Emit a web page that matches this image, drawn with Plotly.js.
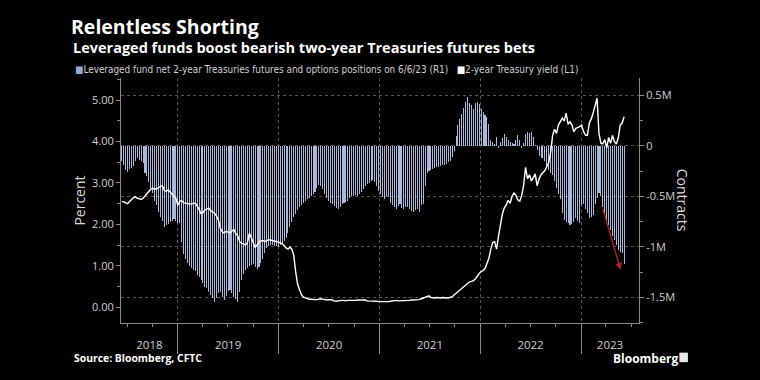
<!DOCTYPE html>
<html><head><meta charset="utf-8">
<script src="https://cdn.plot.ly/plotly-3.0.1.min.js"></script>
<style>html,body{margin:0;padding:0;background:#000;}#chart{width:760px;height:380px;}</style>
</head><body><div id="chart"></div>
<script>
// Weekly CFTC report dates: first report and count
const firstWeek = '2018-06-12';
const weekCount = 261;

// Leveraged fund net 2-year Treasuries futures & options positions (millions of contracts)
const netPositions = [
 -0.15,-0.19,-0.24,-0.26,-0.23,-0.22,-0.20,-0.15,-0.12,-0.14,
 -0.15,-0.17,-0.27,-0.30,-0.36,-0.42,-0.47,-0.54,-0.58,-0.65,
 -0.70,-0.74,-0.80,-0.78,-0.77,-0.75,-0.74,-0.72,-0.74,-0.76,
 -0.76,-0.95,-1.07,-1.12,-1.16,-1.19,-1.21,-1.23,-1.24,-1.28,
 -1.30,-1.33,-1.36,-1.40,-1.41,-1.45,-1.47,-1.50,-1.54,-1.50,
 -1.46,-1.45,-1.49,-1.52,-1.48,-1.44,-1.43,-1.46,-1.49,-1.51,
 -1.54,-1.45,-1.33,-1.27,-1.23,-1.21,-1.19,-1.18,-1.17,-1.20,
 -1.22,-1.20,-1.16,-1.12,-1.06,-1.01,-0.99,-0.98,-0.98,-0.99,
 -0.99,-1.00,-0.98,-0.97,-0.94,-0.91,-0.86,-0.80,-0.75,-0.70,
 -0.67,-0.63,-0.60,-0.58,-0.56,-0.54,-0.53,-0.52,-0.50,-0.48,
 -0.46,-0.42,-0.39,-0.40,-0.43,-0.48,-0.52,-0.54,-0.56,-0.57,
 -0.59,-0.61,-0.62,-0.60,-0.57,-0.56,-0.55,-0.54,-0.52,-0.50,
 -0.50,-0.49,-0.50,-0.48,-0.46,-0.43,-0.40,-0.38,-0.37,-0.35,
 -0.34,-0.36,-0.40,-0.45,-0.48,-0.51,-0.53,-0.50,-0.51,-0.56,
 -0.58,-0.60,-0.62,-0.59,-0.57,-0.61,-0.62,-0.60,-0.60,-0.62,
 -0.64,-0.65,-0.63,-0.62,-0.65,-0.58,-0.57,-0.40,-0.27,-0.25,
 -0.24,-0.23,-0.22,-0.21,-0.21,-0.20,-0.19,-0.19,-0.18,-0.16,
 -0.15,-0.11,-0.05,0.10,0.21,0.27,0.32,0.38,0.43,0.48,
 0.42,0.40,0.37,0.42,0.43,0.41,0.37,0.34,0.31,0.29,
 0.22,0.06,0.04,0.02,0.09,-0.02,0.04,0.08,0.12,0.09,
 0.06,0.04,0.03,0.02,0.06,0.11,0.06,-0.02,0.03,0.12,
 0.14,0.13,0.14,0.09,0.01,-0.04,-0.10,-0.12,-0.12,-0.15,
 -0.20,-0.24,-0.27,-0.29,-0.35,-0.42,-0.48,-0.53,-0.66,-0.73,
 -0.75,-0.76,-0.78,-0.77,-0.75,-0.71,-0.74,-0.76,-0.58,-0.57,
 -0.62,-0.66,-0.71,-0.70,-0.68,-0.57,-0.52,-0.47,-0.50,-0.60,
 -0.66,-0.73,-0.78,-0.83,-0.89,-0.93,-0.98,-1.03,-1.05,-1.06,-1.17
];

// 2-year Treasury yield (percent), same weekly dates
const yield2y = [
 2.55,2.55,2.52,2.50,2.55,2.60,2.64,2.67,2.63,2.62,
 2.60,2.63,2.68,2.74,2.80,2.85,2.87,2.85,2.86,2.88,
 2.90,2.94,2.82,2.80,2.83,2.78,2.75,2.70,2.63,2.46,
 2.56,2.57,2.52,2.51,2.50,2.50,2.49,2.51,2.51,2.45,
 2.37,2.26,2.28,2.35,2.37,2.39,2.33,2.29,2.27,2.20,
 2.10,1.90,1.82,1.79,1.83,1.81,1.79,1.84,1.87,1.78,
 1.72,1.58,1.54,1.53,1.50,1.55,1.78,1.68,1.58,1.44,
 1.50,1.57,1.60,1.61,1.58,1.60,1.63,1.62,1.61,1.59,
 1.58,1.57,1.55,1.53,1.49,1.43,1.40,1.45,1.40,1.25,
 0.85,0.55,0.42,0.30,0.24,0.22,0.20,0.19,0.19,0.18,
 0.18,0.18,0.19,0.20,0.19,0.18,0.17,0.18,0.18,0.17,
 0.15,0.14,0.15,0.16,0.16,0.16,0.15,0.16,0.16,0.15,
 0.16,0.16,0.17,0.17,0.18,0.18,0.17,0.15,0.15,0.15,
 0.14,0.14,0.14,0.13,0.13,0.13,0.12,0.13,0.13,0.14,
 0.15,0.16,0.16,0.15,0.15,0.16,0.16,0.16,0.16,0.16,
 0.17,0.17,0.18,0.18,0.18,0.20,0.22,0.24,0.25,0.27,
 0.23,0.22,0.22,0.23,0.22,0.22,0.23,0.22,0.22,0.22,
 0.23,0.25,0.29,0.33,0.38,0.43,0.47,0.49,0.53,0.58,
 0.61,0.62,0.64,0.68,0.76,0.81,0.86,0.88,0.93,1.06,
 1.18,1.40,1.56,1.58,1.40,1.72,2.03,2.25,2.40,2.47,
 2.58,2.51,2.68,2.76,2.70,2.59,2.56,2.70,2.95,3.38,
 3.10,3.20,3.05,3.15,3.22,2.93,3.10,3.20,3.26,3.30,
 3.40,3.50,3.75,4.15,4.30,4.20,4.40,4.47,4.57,4.50,
 4.69,4.42,4.48,4.40,4.24,4.32,4.34,4.36,4.40,4.24,
 4.16,4.15,4.45,4.55,4.70,4.90,5.05,4.20,3.96,3.95,
 4.05,3.85,4.10,3.96,4.15,4.00,3.94,4.10,4.40,4.45,4.60
];

// Axis tick labels
const yearLabels = ['2018','2019','2020','2021','2022','2023'];
const yearLabelDates = ['2018-09-20','2019-07-02','2020-07-02','2021-07-02','2022-07-02','2023-04-16'];
const rightTickVals = [-1.5,-1,-0.5,0,0.5];
const rightTickText = ['-1.5M','-1M','-0.5M','0','0.5M'];
const leftTickVals = [0,1,2,3,4,5];
const leftTickText = ['0.00','1.00','2.00','3.00','4.00','5.00'];

const seriesNames = ['Leveraged fund net 2-year Treasuries futures and options positions on 6/6/23 (R1)', '2-year Treasury yield (L1)'];

const weekDates = [];
{
  const t0 = Date.parse(firstWeek + 'T00:00:00Z');
  for (let i = 0; i < weekCount; i++) weekDates.push(new Date(t0 + i*7*864e5).toISOString().slice(0,10));
}

const DAY = 864e5;
const xRange = ['2018-06-09', '2023-07-30'];
const axisCol = '#8a8a8a';
const tickCol = '#cfcfcf';
const FONT = 'Open Sans, Roboto, sans-serif';

const PL = 120.7, PR = 638.6, PT = 78, PB = 323.3;
const px = v => (v - PL) / (PR - PL);
const py = v => (PB - v) / (PB - PT);

const traces = [
  {type:'bar', name: seriesNames[0], x: weekDates, y: netPositions, xaxis:'x', yaxis:'y',
   width: 3.8*DAY, marker:{color:'#a9b9dc', line:{width:0}}, showlegend:false, hoverinfo:'skip'},
  {type:'scatter', mode:'lines', name: seriesNames[1], x: weekDates, y: yield2y, xaxis:'x2', yaxis:'y2',
   line:{color:'#ffffff', width:1.4}, showlegend:false, hoverinfo:'skip'}
];

const layout = {
  width:760, height:380,
  paper_bgcolor:'#000', plot_bgcolor:'#000',
  margin:{l:PL, r:760-PR, t:PT, b:380-PB, pad:0},
  showlegend:false,
  bargap:0,
  font:{family:FONT, color:tickCol, size:11},
  title:{text:'<b>Relentless Shorting</b>', x:71/760, xanchor:'left', xref:'container',
         y:1-27/380, yanchor:'middle', yref:'container', font:{family:FONT, size:19.5, color:'#ffffff'}},
  xaxis:{type:'date', range:xRange, showline:true, linecolor:axisCol, linewidth:1,
         tick0:'2019-01-01', dtick:'M12', ticks:'outside', ticklen:30, tickcolor:axisCol, tickwidth:1,
         showticklabels:false, showgrid:true, gridcolor:'#555', griddash:'dot', gridwidth:1, zeroline:false,
         minor:{tick0:'2019-01-01', dtick:'M3', ticks:'outside', ticklen:3, tickcolor:axisCol, showgrid:false}},
  xaxis2:{type:'date', overlaying:'x', matches:'x', range:xRange, anchor:'y2', side:'bottom',
          tickmode:'array', tickvals:yearLabelDates, ticktext:yearLabels, ticks:'', showline:false,
          showgrid:false, zeroline:false, tickfont:{size:11.5, color:tickCol}, ticklabelstandoff:13},
  yaxis:{range:[-1.752, 0.672], side:'right', tickmode:'array', tickvals:rightTickVals, ticktext:rightTickText,
         ticks:'outside', ticklen:4, tickcolor:axisCol, showline:true, linecolor:axisCol, zeroline:false,
         showgrid:true, gridcolor:'#555', griddash:'dot', gridwidth:1, tickfont:{size:11, color:tickCol},
         minor:{tickmode:'linear', tick0:0, dtick:0.25, ticks:'outside', ticklen:3, tickcolor:axisCol, showgrid:false}},
  yaxis2:{range:[-0.386, 5.539], overlaying:'y', side:'left', anchor:'x2', tickmode:'array', tickvals:leftTickVals, ticktext:leftTickText,
          ticks:'outside', ticklen:4, tickcolor:axisCol, showline:true, linecolor:axisCol, zeroline:false, showgrid:false,
          tickfont:{size:11, color:tickCol},
          title:{text:'Percent', font:{size:14, color:'#dddddd'}, standoff:3},
          minor:{tickmode:'linear', tick0:0, dtick:0.5, ticks:'outside', ticklen:3, tickcolor:axisCol, showgrid:false}},
  annotations:[
    {xref:'paper', yref:'paper', x:px(71), y:py(47), xanchor:'left', yanchor:'middle', showarrow:false,
     text:'<b>Leveraged funds boost bearish two-year Treasuries futures bets</b>', font:{family:FONT, size:14.5, color:'#ffffff'}},
    {xref:'paper', yref:'paper', x:px(73), y:py(69), xanchor:'left', yanchor:'middle', showarrow:false,
     text:"<span style='color:#98a9cf'>■</span>" + seriesNames[0] + "   <span style='color:#ffffff'>■</span>" + seriesNames[1],
     font:{family:'Liberation Sans Narrow, DejaVu Sans Condensed, Roboto, sans-serif', size:9.9, color:'#d0d0d0'}},
    {xref:'paper', yref:'paper', x:px(681.7), y:py(200), xanchor:'center', yanchor:'middle', showarrow:false,
     text:'Contracts', textangle:90, font:{size:14, color:'#dddddd'}},
    {xref:'paper', yref:'paper', x:px(72), y:py(358), xanchor:'left', yanchor:'middle', showarrow:false,
     text:'<b>Source: Bloomberg, CFTC</b>', font:{family:FONT, size:10.4, color:'#ffffff'}},
    {xref:'paper', yref:'paper', x:px(611), y:py(358.5), xanchor:'left', yanchor:'middle', showarrow:false,
     text:'<b>Bloomberg</b>', font:{family:FONT, size:12, color:'#ffffff'}},
    {xref:'x', yref:'y', x:'2023-05-24', y:-1.224, ax:-18, ay:-62, axref:'pixel', ayref:'pixel',
     showarrow:true, arrowhead:2, arrowsize:1, arrowwidth:1.3, arrowcolor:'#b8232b', text:''}
  ],
  shapes:[
    {type:'rect', xref:'paper', yref:'paper', x0:px(679), x1:px(687.5), y0:py(362.5), y1:py(353), fillcolor:'#e8e8e8', line:{width:0}}
  ]
};

Plotly.newPlot('chart', traces, layout, {staticPlot:true, displayModeBar:false});
</script></body></html>
